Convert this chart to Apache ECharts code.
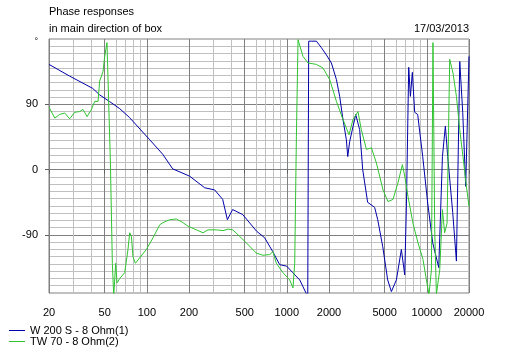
<!DOCTYPE html>
<html>
<head>
<meta charset="utf-8">
<script src="https://cdn.jsdelivr.net/npm/echarts@6/dist/echarts.min.js"></script>
<style>
html,body{margin:0;padding:0;background:#fff;}
#main{width:512px;height:353px;}
</style>
</head>
<body>
<div id="main"></div>
<script>
// log grid: every 1..9 x decade, labels only on some
var gridFreqs = [20,30,40,50,60,70,80,90,100,200,300,400,500,600,700,800,900,1000,2000,3000,4000,5000,6000,7000,8000,9000,10000,20000];
var labelFreqs = [20,50,100,200,500,1000,2000,5000,10000,20000];
var phaseTicks = [-90,0,90];
var phaseLabels = [-90,0,90,180];

// W 200 S - 8 Ohm(1)
var wFreq = [20,28,41,46,54,64,75,105,130,153,202,259,305,348,376,410,484,609,695,793,889,998,1102,1236,1410,1432,1496,1626,1766,1916,2080,2260,2384,2504,2661,2722,2812,3104,3312,3482,3776,4236,4457,4840,5250,5580,6060,6576,6950,7145,7420,7626,7880,8186,8600,9340,10140,11020,12160,12920,13560,14090,15300,16260,17180,18040,18940,20000];
var wPhase = [145,129,112,103,94,84,72,41,21,1,-9,-25,-28,-41,-69,-55,-62,-85,-94,-113,-131,-133,-142,-152,-175,177,177,177,168,158,147,124,101,72,41,18,39,76,55,0,-45,-52,-69,-106,-152,-168,-152,-110,-145,-50,141,101,134,79,76,18,-46,-101,-135,18,60,18,-59,-126,149,79,-23,156];

// TW 70 - 8 Ohm(2)
var twFreq = [20,22,23.8,25.9,28.1,30.5,33.1,35,37.4,40.2,42.4,44.8,46,48.6,50,51.9,53.4,54.9,56.7,58,59.9,61.2,64,69.5,73.3,75.4,77.6,79.6,82.8,99.2,110.6,123.6,130.4,145.6,162.6,181,197,226,252,273,314,350,380,412,460,514,605,675,754,796,841,938,1048,1106,1138,1170,1202,1304,1416,1626,1812,2024,2260,2518,2780,2966,3220,3404,3700,4020,4364,4864,5276,5728,6222,6686,6950,7332,7962,8648,9388,9924,10360,10780,11060,11380,11700,12360,12920,13400,13940,14560,15380,16260,17180,18120,19160,20000];
var twPhase = [86,71,76,78,70,79,80,83,73,83,94,94,122,135,156,175,177,10,-129,-174,-129,-156,-150,-142,-110,-87,-92,-120,-129,-110,-94,-76,-73,-69,-68,-73,-78,-83,-87,-83,-83,-84,-82,-83,-92,-101,-115,-118,-117,-113,-129,-142,-152,-163,-129,46,179,156,147,145,140,124,94,69,48,69,80,55,28,30,9,-28,-44,-41,-18,7,-9,-37,-74,-101,-124,-152,-172,-138,175,-83,-172,-138,-55,-87,-74,152,133,101,55,18,-23,-51];

var font = 'Arial, "Liberation Sans", sans-serif';

function lg(arr){
    return arr.map(function(f){ return Math.log10(f); });
}

function toPoints(freqs, phases){
    var arr = [];
    for(var i=0,l=freqs.length;i<l;i++){
        arr.push([Math.log10(freqs[i]), phases[i]]);
    }
    return arr;
}

var xMin = Math.log10(20), xMax = Math.log10(20000);

var myChart = echarts.init(document.getElementById('main'), null, {renderer:'canvas'});
var option = {
    animation: false,
    backgroundColor: '#fff',
    textStyle: {fontFamily: font},
    title: [{
        text: 'Phase responses\nin main direction of box',
        left: 44,
        top: -1,
        textStyle: {fontSize: 11, fontWeight: 'normal', color: '#000', fontFamily: font, lineHeight: 16.5}
    }, {
        text: '17/03/2013',
        right: 38,
        top: 18,
        textStyle: {fontSize: 11, fontWeight: 'normal', color: '#000', fontFamily: font}
    }],
    legend: {
        orient: 'vertical',
        left: 9,
        top: 325,
        icon: 'rect',
        itemWidth: 16,
        itemHeight: 1,
        itemGap: 0,
        padding: 0,
        textStyle: {fontSize: 11, color: '#000', fontFamily: font},
        data: ['W 200 S - 8 Ohm(1)', 'TW 70 - 8 Ohm(2)']
    },
    grid: {left: 49, right: 43, top: 39, bottom: 60, show: true, borderColor: '#808080', borderWidth: 1},
    xAxis: [{
        type: 'value', min: xMin, max: xMax, position: 'top',
        axisLine: {show: false},
        axisTick: {show: false, customValues: lg(gridFreqs)},
        axisLabel: {show: false},
        splitLine: {show: true, lineStyle: {color: '#c0c0c0', width: 1}}
    }, {
        type: 'value', min: xMin, max: xMax, position: 'bottom',
        axisLine: {show: true, lineStyle: {color: '#808080'}},
        axisTick: {show: true, length: 4, customValues: lg(labelFreqs), lineStyle: {color: '#606060'}},
        axisLabel: {
            customValues: lg(labelFreqs), margin: 14, fontSize: 11, color: '#000', fontFamily: font,
            formatter: function(v){ return String(Math.round(Math.pow(10, v))); }
        },
        splitLine: {show: true, lineStyle: {color: '#808080', width: 1}}
    }],
    yAxis: [{
        type: 'value', min: -170, max: 180, interval: 10, position: 'right',
        axisLine: {show: false}, axisTick: {show: false}, axisLabel: {show: false},
        splitLine: {show: true, lineStyle: {color: '#c0c0c0', width: 1}}
    }, {
        type: 'value', min: -170, max: 180, position: 'left',
        axisLine: {show: true, lineStyle: {color: '#808080'}},
        axisTick: {show: true, length: 4, customValues: phaseTicks, lineStyle: {color: '#606060'}},
        axisLabel: {
            customValues: phaseLabels, margin: 11, fontSize: 11, color: '#000', fontFamily: font,
            formatter: function(v){ return v === 180 ? '{deg|°}' : String(v); },
            rich: {deg: {fontSize: 9, padding: [6, 0, 0, 0], color: '#000'}}
        },
        splitLine: {show: true, lineStyle: {color: '#808080', width: 1}}
    }],
    series: [{
        name: 'W 200 S - 8 Ohm(1)',
        type: 'line',
        symbol: 'none',
        clip: true,
        lineStyle: {color: '#0000a8', width: 1},
        itemStyle: {color: '#0000a8'},
        data: toPoints(wFreq, wPhase)
    }, {
        name: 'TW 70 - 8 Ohm(2)',
        type: 'line',
        symbol: 'none',
        clip: true,
        lineStyle: {color: '#30c430', width: 1},
        itemStyle: {color: '#30c430'},
        data: toPoints(twFreq, twPhase)
    }]
};
myChart.setOption(option);
</script>
</body>
</html>
